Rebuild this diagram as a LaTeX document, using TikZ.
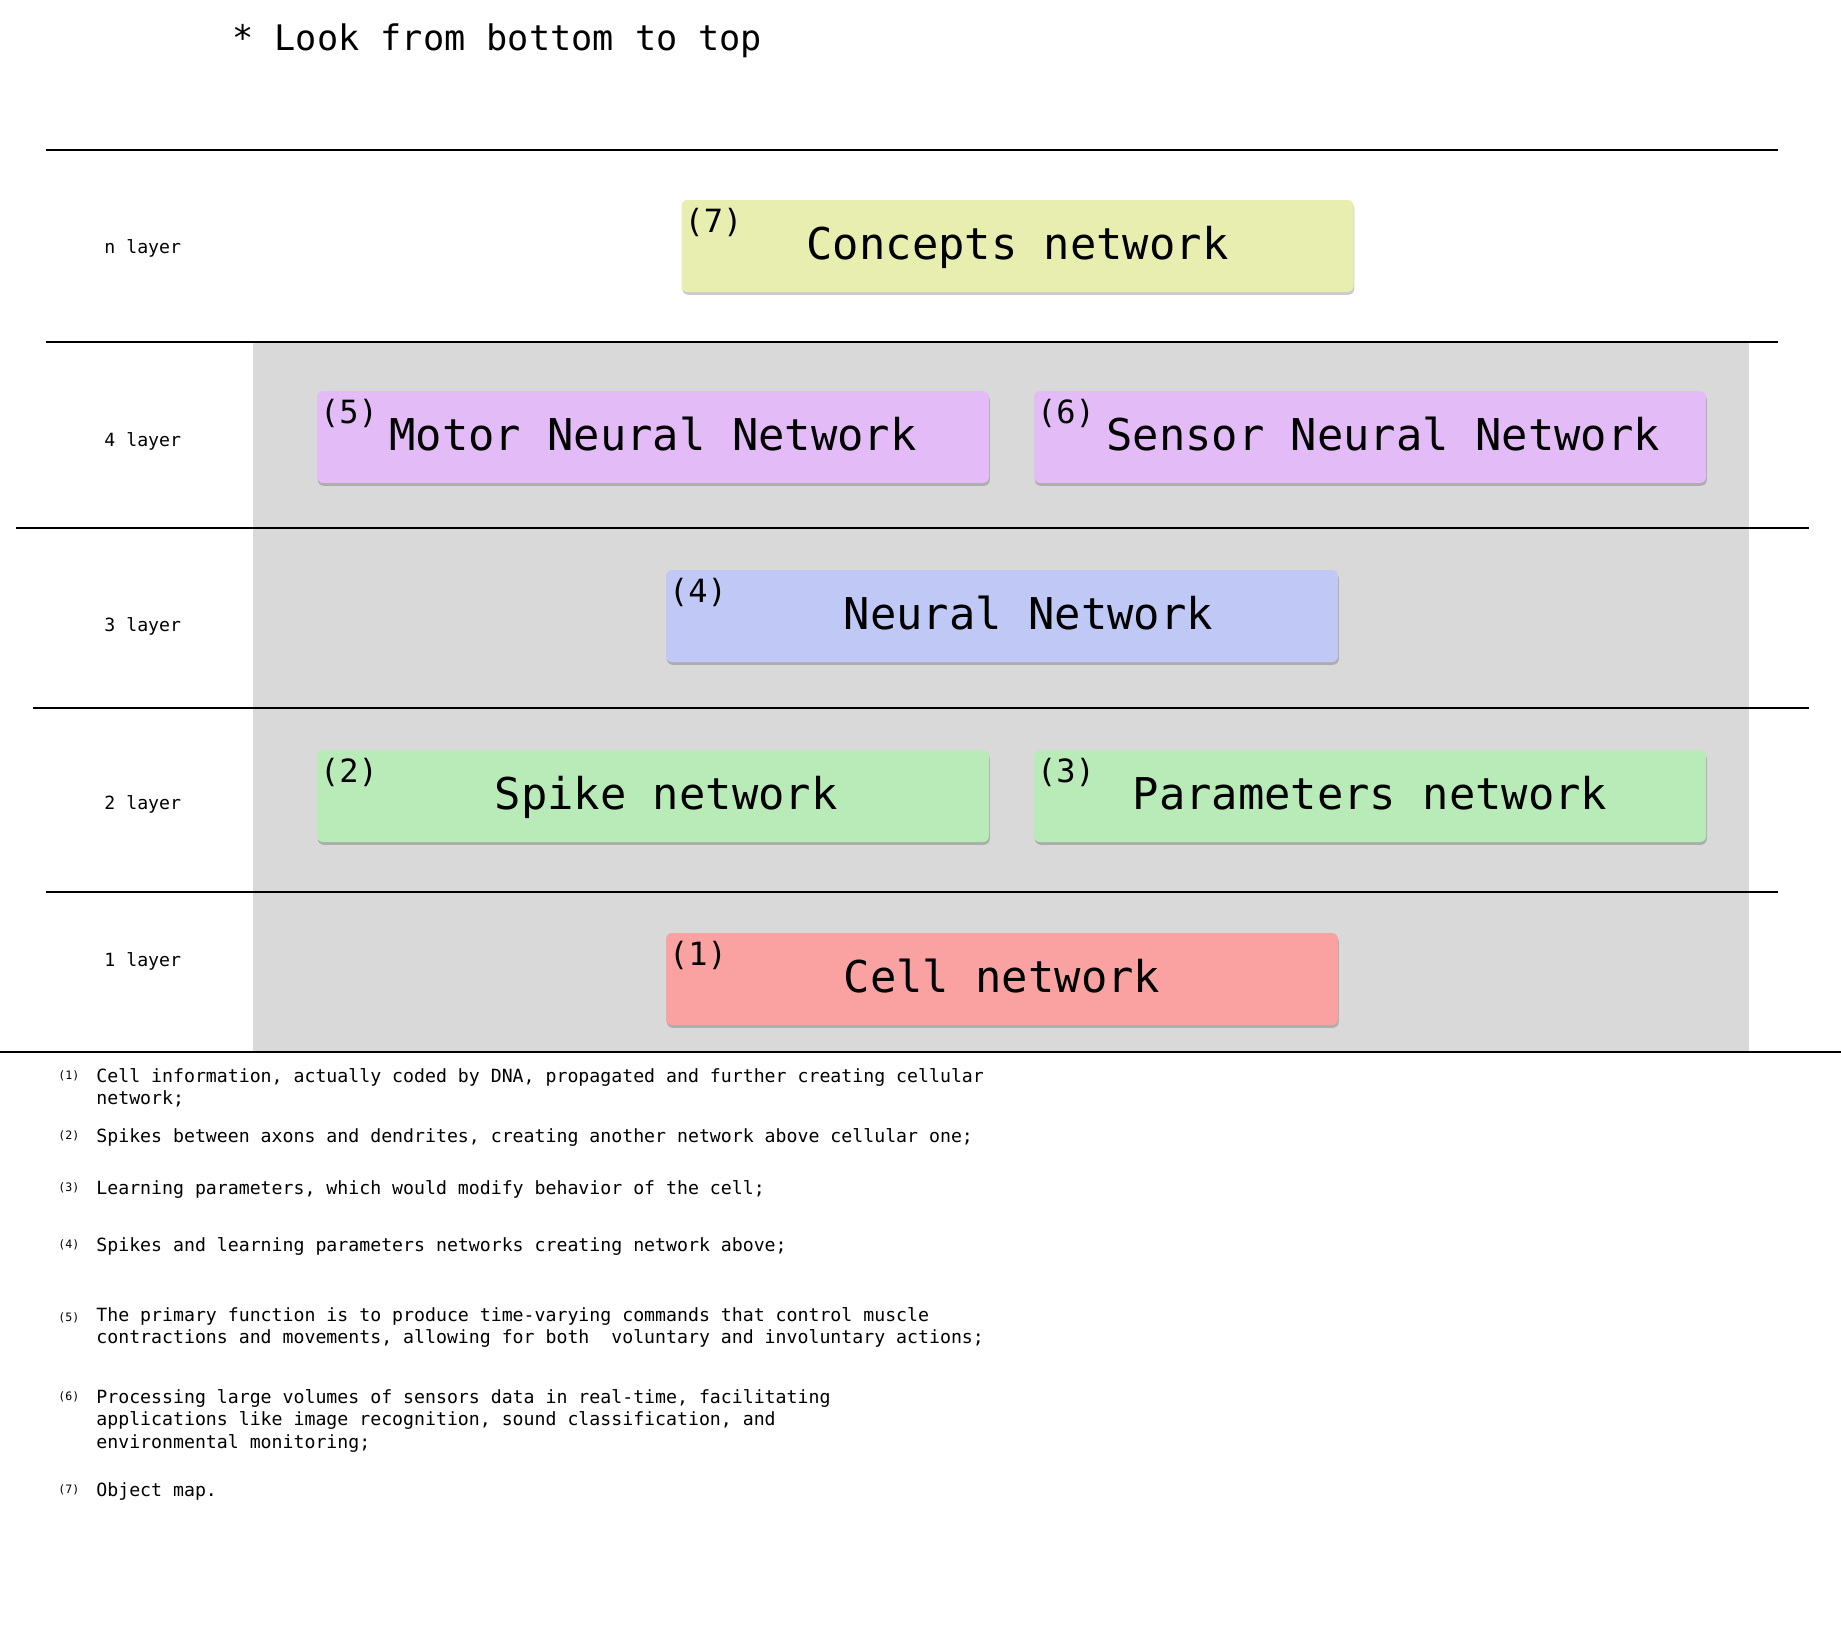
\documentclass[tikz,border=0pt]{standalone}
\usepackage{fontspec}
\setmonofont{DejaVu Sans Mono}
\usetikzlibrary{shadows}

\definecolor{bggray}{RGB}{217,217,217}
\definecolor{conceptcol}{RGB}{232,237,176}
\definecolor{motorcol}{RGB}{227,187,246}
\definecolor{neuralcol}{RGB}{192,201,245}
\definecolor{spikecol}{RGB}{184,235,184}
\definecolor{cellcol}{RGB}{250,161,161}

\tikzset{
  netbox/.style={rounded corners=3pt, minimum width=336pt, minimum height=46pt, inner sep=0pt,
    text height=16.5pt, text depth=3.5pt, font=\ttfamily\fontsize{21.9}{26}\selectfont,
    drop shadow={shadow xshift=0.4pt, shadow yshift=-1.4pt, opacity=0.2, fill=black}},
  netnum/.style={anchor=north west, inner sep=0pt, font=\ttfamily\fontsize{16}{19}\selectfont},
  layerlbl/.style={anchor=base west, inner sep=0pt, font=\ttfamily\fontsize{9.1}{11}\selectfont},
  fnmark/.style={anchor=base west, inner sep=0pt, font=\ttfamily\fontsize{5.8}{7}\selectfont},
  fntext/.style={anchor=base west, inner sep=0pt, align=left, font=\ttfamily\fontsize{9.1}{11.25}\selectfont},
  layerline/.style={line width=0.6pt}
}

\begin{document}
\begin{tikzpicture}[x=0.5pt,y=-0.5pt]
	\useasboundingbox (0,0) rectangle (1841,1645);

	\node[anchor=base west, inner sep=0pt, font=\ttfamily\fontsize{17.6}{21}\selectfont] (title) at (232,50) {* Look from bottom to top};

	% layers
	\fill[bggray] (253,342) rectangle (1749,1052);
	\draw[layerline] (46,150) -- (1778,150);
	\draw[layerline] (46,342) -- (1778,342);
	\draw[layerline] (16,528) -- (1809,528);
	\draw[layerline] (33,708) -- (1809,708);
	\draw[layerline] (46,892) -- (1778,892);
	\draw[layerline] (0,1052) -- (1841,1052);

	\node[layerlbl] (layn) at (104,253) {n layer};
	\node[layerlbl] (lay4) at (104,446) {4 layer};
	\node[layerlbl] (lay3) at (104,631) {3 layer};
	\node[layerlbl] (lay2) at (104,809) {2 layer};
	\node[layerlbl] (lay1) at (104,966) {1 layer};

	% networks
	\node[netbox, fill=conceptcol] (concepts) at (1017.5,246) {Concepts network};
	\node[netbox, fill=motorcol] (motor) at (653,437) {Motor Neural Network};
	\node[netbox, fill=motorcol] (sensor) at (1370,437) {~Sensor Neural Network};
	\node[netbox, fill=neuralcol] (neural) at (1002,616) {~~Neural Network};
	\node[netbox, fill=spikecol] (spike) at (653,796) {~Spike network};
	\node[netbox, fill=spikecol] (params) at (1370,796) {Parameters network};
	\node[netbox, fill=cellcol] (cell) at (1002,979) {Cell network};

	\node[netnum] (num7) at ([xshift=1.5pt,yshift=-4pt]concepts.north west) {(7)};
	\node[netnum] (num5) at ([xshift=1.5pt,yshift=-4pt]motor.north west) {(5)};
	\node[netnum] (num6) at ([xshift=1.5pt,yshift=-4pt]sensor.north west) {(6)};
	\node[netnum] (num4) at ([xshift=1.5pt,yshift=-4pt]neural.north west) {(4)};
	\node[netnum] (num2) at ([xshift=1.5pt,yshift=-4pt]spike.north west) {(2)};
	\node[netnum] (num3) at ([xshift=1.5pt,yshift=-4pt]params.north west) {(3)};
	\node[netnum] (num1) at ([xshift=1.5pt,yshift=-4pt]cell.north west) {(1)};

	% notes (base = last line)
	\node[fnmark] (mark1) at (58,1079) {(1)};
	\node[fntext] (note1) at (96,1104.5) {Cell information, actually coded by DNA, propagated and further creating cellular\\network;};
	\node[fnmark] (mark2) at (58,1139) {(2)};
	\node[fntext] (note2) at (96,1142) {Spikes between axons and dendrites, creating another network above cellular one;};
	\node[fnmark] (mark3) at (58,1191) {(3)};
	\node[fntext] (note3) at (96,1194) {Learning parameters, which would modify behavior of the cell;};
	\node[fnmark] (mark4) at (58,1248) {(4)};
	\node[fntext] (note4) at (96,1251) {Spikes and learning parameters networks creating network above;};
	\node[fnmark] (mark5) at (58,1321) {(5)};
	\node[fntext] (note5) at (96,1343.5) {The primary function is to produce time-varying commands that control muscle\\contractions and movements, allowing for both~ voluntary and involuntary actions;};
	\node[fnmark] (mark6) at (58,1400) {(6)};
	\node[fntext] (note6) at (96,1448) {Processing large volumes of sensors data in real-time, facilitating\\applications like image recognition, sound classification, and\\environmental monitoring;};
	\node[fnmark] (mark7) at (58,1493) {(7)};
	\node[fntext] (note7) at (96,1496) {Object map.};
\end{tikzpicture}
\end{document}
